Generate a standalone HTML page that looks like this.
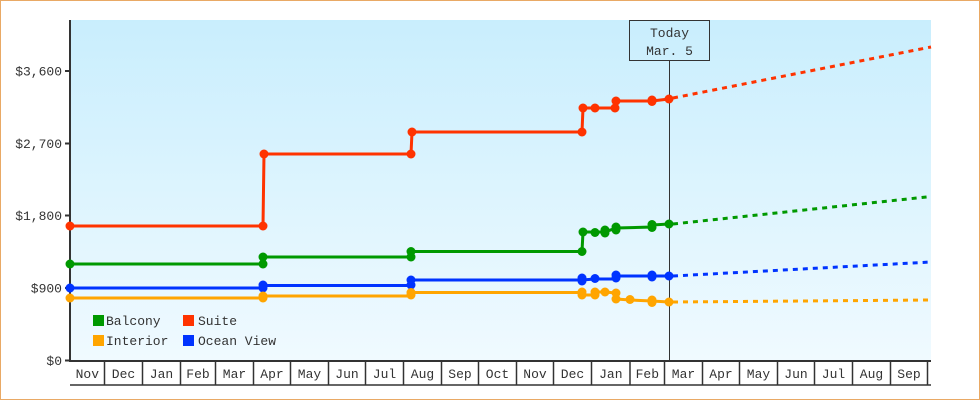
<!DOCTYPE html>
<html><head><meta charset="utf-8"><style>
html,body{margin:0;padding:0;background:#fff;}
svg{display:block;}
text{font-family:"Liberation Mono","DejaVu Sans Mono",monospace;font-size:13px;fill:#333;}
</style></head><body>
<svg width="980" height="400" viewBox="0 0 980 400" xmlns="http://www.w3.org/2000/svg">
<defs>
<linearGradient id="bg" x1="0" y1="0" x2="0" y2="1">
<stop offset="0" stop-color="#c9eefd"/>
<stop offset="1" stop-color="#f0faff"/>
</linearGradient>
</defs>
<rect x="0.5" y="0.5" width="979" height="399" fill="#fff" stroke="#e9a965" stroke-width="1"/>
<rect x="70" y="20" width="861" height="341" fill="url(#bg)"/>

<!-- y axis -->
<g stroke="#333" stroke-width="2">
<line x1="70" y1="20" x2="70" y2="362"/>
<line x1="65" y1="71" x2="70" y2="71"/>
<line x1="65" y1="143.5" x2="70" y2="143.5"/>
<line x1="65" y1="215.5" x2="70" y2="215.5"/>
<line x1="65" y1="288" x2="70" y2="288"/>
<line x1="65" y1="360.5" x2="70" y2="360.5"/>
<line x1="69" y1="361" x2="931" y2="361"/>
</g>
<g text-anchor="end">
<text x="62" y="75.5">$3,600</text>
<text x="62" y="148">$2,700</text>
<text x="62" y="220">$1,800</text>
<text x="62" y="292.5">$900</text>
<text x="62" y="365">$0</text>
</g>

<!-- x axis boxes -->
<g stroke="#333" stroke-width="1.5">
<line x1="70" y1="385" x2="931" y2="385"/>
<line x1="104.5" y1="361" x2="104.5" y2="385"/>
<line x1="142.5" y1="361" x2="142.5" y2="385"/>
<line x1="180.5" y1="361" x2="180.5" y2="385"/>
<line x1="215.5" y1="361" x2="215.5" y2="385"/>
<line x1="253.5" y1="361" x2="253.5" y2="385"/>
<line x1="290.5" y1="361" x2="290.5" y2="385"/>
<line x1="328.5" y1="361" x2="328.5" y2="385"/>
<line x1="365.5" y1="361" x2="365.5" y2="385"/>
<line x1="403.5" y1="361" x2="403.5" y2="385"/>
<line x1="441.5" y1="361" x2="441.5" y2="385"/>
<line x1="478.5" y1="361" x2="478.5" y2="385"/>
<line x1="516.5" y1="361" x2="516.5" y2="385"/>
<line x1="553.5" y1="361" x2="553.5" y2="385"/>
<line x1="591.5" y1="361" x2="591.5" y2="385"/>
<line x1="630" y1="361" x2="630" y2="385"/>
<line x1="664.5" y1="361" x2="664.5" y2="385"/>
<line x1="702.5" y1="361" x2="702.5" y2="385"/>
<line x1="739.5" y1="361" x2="739.5" y2="385"/>
<line x1="777.5" y1="361" x2="777.5" y2="385"/>
<line x1="814.5" y1="361" x2="814.5" y2="385"/>
<line x1="852.5" y1="361" x2="852.5" y2="385"/>
<line x1="890.5" y1="361" x2="890.5" y2="385"/>
<line x1="927.5" y1="361" x2="927.5" y2="385"/>
</g>
<g text-anchor="middle">
<text x="87.3" y="378">Nov</text>
<text x="123.5" y="378">Dec</text>
<text x="161.5" y="378">Jan</text>
<text x="198" y="378">Feb</text>
<text x="234.5" y="378">Mar</text>
<text x="272" y="378">Apr</text>
<text x="309.5" y="378">May</text>
<text x="347" y="378">Jun</text>
<text x="384.5" y="378">Jul</text>
<text x="422.5" y="378">Aug</text>
<text x="460" y="378">Sep</text>
<text x="497.5" y="378">Oct</text>
<text x="535" y="378">Nov</text>
<text x="572.5" y="378">Dec</text>
<text x="610.8" y="378">Jan</text>
<text x="647.3" y="378">Feb</text>
<text x="683.5" y="378">Mar</text>
<text x="721" y="378">Apr</text>
<text x="758.5" y="378">May</text>
<text x="796" y="378">Jun</text>
<text x="833.5" y="378">Jul</text>
<text x="871.5" y="378">Aug</text>
<text x="909" y="378">Sep</text>
</g>

<!-- today marker -->
<line x1="669.5" y1="60" x2="669.5" y2="361" stroke="#333" stroke-width="1"/>
<rect x="629.5" y="20.5" width="80" height="40" fill="none" stroke="#333" stroke-width="1"/>
<text x="669.5" y="37" text-anchor="middle">Today</text>
<text x="669.5" y="55" text-anchor="middle">Mar. 5</text>

<!-- forecasts -->
<g fill="none" stroke-width="3" stroke-dasharray="5 5">
<line x1="673" y1="98" x2="931" y2="47" stroke="#ff3300"/>
<line x1="673" y1="224" x2="931" y2="196.5" stroke="#009900"/>
<line x1="673" y1="276" x2="931" y2="262" stroke="#0033ff"/>
<line x1="673" y1="302" x2="931" y2="300" stroke="#ffa500"/>
</g>

<!-- series lines -->
<g fill="none" stroke-width="3" stroke-linejoin="miter">
<path stroke="#ff3300" d="M70,226 H263 L264,154 H411 L412,132 H582 L583,108 H615 L616,101 H652 L669,99"/>
<path stroke="#009900" d="M70,264 H263 L263,257 H411 L411,251.5 H582 L583,232 L605,232 L616,228 L652,227 L652,225 L669,224"/>
<path stroke="#0033ff" d="M70,288 H263 L263,285.5 H411 L411,280 H582 L595,279 L615,279 L616,276 L669,276"/>
<path stroke="#ffa500" d="M70,298 H263 L263,296 H411 L411,292.5 H582 L582,295 L595,295 L596,292 L605,292 L616,293 L616,299 L630,300 L652,301 L669,302"/>
</g>

<!-- markers -->
<g fill="#ff3300">
<circle cx="70" cy="226" r="4.5"/><circle cx="263" cy="226" r="4.5"/><circle cx="264" cy="154" r="4.5"/>
<circle cx="411" cy="154" r="4.5"/><circle cx="412" cy="132" r="4.5"/><circle cx="582" cy="132" r="4.5"/>
<circle cx="583" cy="108" r="4.5"/><circle cx="595" cy="108" r="4.5"/><circle cx="615" cy="108" r="4.5"/>
<circle cx="616" cy="101" r="4.5"/><circle cx="652" cy="100" r="4.5"/><circle cx="652" cy="101.5" r="4.5"/><circle cx="669" cy="99" r="4.5"/>
</g>
<g fill="#009900">
<circle cx="70" cy="264" r="4.5"/><circle cx="263" cy="264" r="4.5"/><circle cx="263" cy="257" r="4.5"/>
<circle cx="411" cy="257" r="4.5"/><circle cx="411" cy="251.5" r="4.5"/><circle cx="582" cy="251.5" r="4.5"/>
<circle cx="583" cy="232" r="4.5"/><circle cx="595" cy="232.5" r="4.5"/><circle cx="605" cy="230" r="4.5"/><circle cx="605" cy="233" r="4.5"/>
<circle cx="616" cy="227" r="4.5"/><circle cx="616" cy="230" r="4.5"/><circle cx="652" cy="224.5" r="4.5"/><circle cx="652" cy="227.5" r="4.5"/><circle cx="669" cy="224" r="4.5"/>
</g>
<g fill="#0033ff">
<circle cx="70" cy="288" r="4.5"/><circle cx="263" cy="288" r="4.5"/><circle cx="263" cy="285" r="4.5"/>
<circle cx="411" cy="285" r="4.5"/><circle cx="411" cy="280" r="4.5"/><circle cx="582" cy="278" r="4.5"/><circle cx="582" cy="281" r="4.5"/>
<circle cx="595" cy="278.5" r="4.5"/><circle cx="616" cy="275" r="4.5"/><circle cx="616" cy="278" r="4.5"/>
<circle cx="652" cy="275" r="4.5"/><circle cx="652" cy="277" r="4.5"/><circle cx="669" cy="276" r="4.5"/>
</g>
<g fill="#ffa500">
<circle cx="70" cy="298" r="4.5"/><circle cx="263" cy="298" r="4.5"/><circle cx="263" cy="296" r="4.5"/>
<circle cx="411" cy="295" r="4.5"/><circle cx="411" cy="292.5" r="4.5"/><circle cx="582" cy="292" r="4.5"/><circle cx="582" cy="295" r="4.5"/>
<circle cx="595" cy="292" r="4.5"/><circle cx="595" cy="295" r="4.5"/><circle cx="605" cy="292" r="4.5"/>
<circle cx="616" cy="293" r="4.5"/><circle cx="616" cy="299" r="4.5"/><circle cx="630" cy="299.5" r="4.5"/>
<circle cx="652" cy="300" r="4.5"/><circle cx="652" cy="302.5" r="4.5"/><circle cx="669" cy="302" r="4.5"/>
</g>

<!-- legend -->
<rect x="93" y="315" width="11" height="11" fill="#009900"/>
<text x="106" y="325">Balcony</text>
<rect x="183" y="315" width="11" height="11" fill="#ff3300"/>
<text x="198" y="325">Suite</text>
<rect x="93" y="335" width="11" height="11" fill="#ffa500"/>
<text x="106" y="345">Interior</text>
<rect x="183" y="335" width="11" height="11" fill="#0033ff"/>
<text x="198" y="345">Ocean View</text>
</svg>
</body></html>
